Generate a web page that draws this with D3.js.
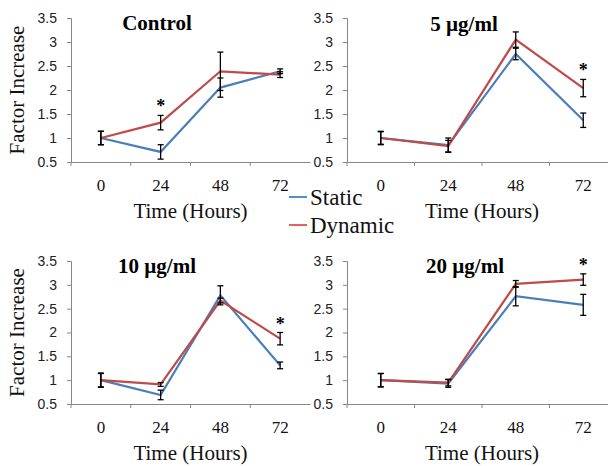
<!DOCTYPE html>
<html>
<head>
<meta charset="utf-8">
<script src="https://cdn.jsdelivr.net/npm/d3@7"></script>
<style>
  body { margin: 0; background: #fff; }
  svg { display: block; }
</style>
</head>
<body>
<div id="chart"></div>
<script>

// Set dimensions
const width = 608;
const height = 466;

// time points (hours) and y axis ticks
const times = ["0", "24", "48", "72"];
const yTicks = [0.5, 1, 1.5, 2, 2.5, 3, 3.5];
const panelTitles = ["Control", "5 µg/ml", "10 µg/ml", "20 µg/ml"];
const seriesNames = ["Static", "Dynamic"];

// values, one array per panel and series
const staticControl = [1.0, 0.71, 2.05, 2.39];
const staticControlErr = [0.14, 0.15, 0.2, 0.05];
const dynamicControl = [1.0, 1.32, 2.39, 2.32];
const dynamicControlErr = [0.14, 0.15, 0.4, 0.06];

const static5 = [1.0, 0.85, 2.75, 1.37];
const static5Err = [0.14, 0.15, 0.12, 0.15];
const dynamic5 = [1.0, 0.83, 3.05, 2.04];
const dynamic5Err = [0.13, 0.12, 0.16, 0.18];

const static10 = [1.0, 0.69, 2.78, 1.31];
const static10Err = [0.15, 0.1, 0.2, 0.07];
const dynamic10 = [1.0, 0.91, 2.67, 1.87];
const dynamic10Err = [0.14, 0.04, 0.05, 0.13];

const static20 = [1.0, 0.93, 2.76, 2.58];
const static20Err = [0.14, 0.08, 0.2, 0.22];
const dynamic20 = [1.0, 0.95, 3.02, 3.11];
const dynamic20Err = [0.14, 0.07, 0.07, 0.12];

// index of the time point marked with a star in each panel
const starIndex = [1, 3, 3, 3];

// panel boxes on the page
const layout = [
  {x0: 71, x1: 310, yTop: 18, yBottom: 162, titleX: 157, titleY: 30},
  {x0: 347, x1: 617, yTop: 18, yBottom: 162, titleX: 464, titleY: 31},
  {x0: 71, x1: 310, yTop: 261, yBottom: 404, titleX: 157, titleY: 273},
  {x0: 347, x1: 617, yTop: 261, yBottom: 404, titleX: 465, titleY: 273}
];

const panels = [
  {s: staticControl, se: staticControlErr, d: dynamicControl, de: dynamicControlErr},
  {s: static5, se: static5Err, d: dynamic5, de: dynamic5Err},
  {s: static10, se: static10Err, d: dynamic10, de: dynamic10Err},
  {s: static20, se: static20Err, d: dynamic20, de: dynamic20Err}
];

const colors = ["#4a7ebb", "#be4b48"];
const legendColors = ["#3a80cf", "#e84c4c"];
const axisColor = "#878787";
const serif = "'Liberation Serif', 'Times New Roman', serif";
const sans = "'Liberation Sans', Arial, sans-serif";

const svg = d3.select("#chart")
  .append("svg")
  .attr("width", width)
  .attr("height", height);

panels.forEach((p, k) => {
  const L = layout[k];
  const g = svg.append("g");

  // scales
  const x = d3.scaleBand()
    .domain(times)
    .range([L.x0, L.x1])
    .padding(0);
  const y = d3.scaleLinear()
    .domain([0.5, 3.5])
    .range([L.yBottom, L.yTop]);
  const cx = t => x(t) + x.bandwidth() / 2;

  // y axis
  const yAxis = g.append("g")
    .attr("transform", `translate(${L.x0},0)`)
    .call(d3.axisLeft(y).tickValues(yTicks).tickSize(4).tickPadding(10)
      .tickFormat(d3.format("")));
  yAxis.select(".domain").attr("stroke", axisColor);
  yAxis.selectAll(".tick line").attr("stroke", axisColor);
  yAxis.selectAll("text")
    .style("font-family", sans)
    .style("font-size", "14px")
    .attr("fill", "#222");

  // x axis: labels in the middle of each band, ticks between bands
  const xAxis = g.append("g")
    .attr("transform", `translate(0,${L.yBottom})`)
    .call(d3.axisBottom(x).tickSize(0).tickSizeOuter(0));
  xAxis.select(".domain").attr("stroke", axisColor);
  xAxis.selectAll("text")
    .attr("y", 29)
    .attr("dy", 0)
    .style("font-family", serif)
    .style("font-size", "17px")
    .attr("fill", "#111");
  g.selectAll(".band-tick")
    .data(times)
    .enter()
    .append("line")
      .attr("x1", t => x(t))
      .attr("x2", t => x(t))
      .attr("y1", L.yBottom)
      .attr("y2", L.yBottom + 4)
      .attr("stroke", axisColor);

  // axis titles
  g.append("text")
    .attr("x", (L.x0 + L.x1) / 2)
    .attr("y", L.yBottom + 56)
    .attr("text-anchor", "middle")
    .style("font-family", serif)
    .style("font-size", "21px")
    .attr("fill", "#111")
    .text("Time (Hours)");

  if (k % 2 === 0) {
    g.append("text")
      .attr("transform", `translate(24,${(L.yTop + L.yBottom) / 2}) rotate(-90)`)
      .attr("text-anchor", "middle")
      .style("font-family", serif)
      .style("font-size", "21px")
      .attr("fill", "#111")
      .text("Factor Increase");
  }

  // panel title
  g.append("text")
    .attr("x", L.titleX)
    .attr("y", L.titleY)
    .attr("text-anchor", "middle")
    .style("font-family", serif)
    .style("font-weight", "bold")
    .style("font-size", "21px")
    .attr("fill", "#000")
    .text(panelTitles[k]);

  // lines
  const line = d3.line()
    .x((v, i) => cx(times[i]))
    .y(v => y(v));
  [p.s, p.d].forEach((vals, j) => {
    g.append("path")
      .datum(vals)
      .attr("d", line)
      .attr("fill", "none")
      .attr("stroke", colors[j])
      .attr("stroke-width", 2.2);
  });

  // error bars
  const errs = [];
  p.s.forEach((v, i) => errs.push({t: times[i], v: v, e: p.se[i]}));
  p.d.forEach((v, i) => errs.push({t: times[i], v: v, e: p.de[i]}));
  const eb = g.selectAll(".err")
    .data(errs)
    .enter()
    .append("g")
    .attr("stroke", "#000")
    .attr("stroke-width", 1.3);
  eb.append("line")
    .attr("x1", d => cx(d.t)).attr("x2", d => cx(d.t))
    .attr("y1", d => y(d.v - d.e)).attr("y2", d => y(d.v + d.e));
  eb.append("line")
    .attr("x1", d => cx(d.t) - 3).attr("x2", d => cx(d.t) + 3)
    .attr("y1", d => y(d.v + d.e)).attr("y2", d => y(d.v + d.e));
  eb.append("line")
    .attr("x1", d => cx(d.t) - 3).attr("x2", d => cx(d.t) + 3)
    .attr("y1", d => y(d.v - d.e)).attr("y2", d => y(d.v - d.e));

  // significance star above the highest error bar
  const si = starIndex[k];
  const top = Math.max(p.s[si] + p.se[si], p.d[si] + p.de[si]);
  g.append("text")
    .attr("x", cx(times[si]))
    .attr("y", y(top) - 3)
    .attr("text-anchor", "middle")
    .style("font-family", serif)
    .style("font-weight", "bold")
    .style("font-size", "18px")
    .attr("fill", "#000")
    .text("*");
});

// legend
const legend = svg.append("g");
seriesNames.forEach((name, j) => {
  const ly = 197 + j * 28;
  legend.append("line")
    .attr("x1", 289).attr("x2", 307)
    .attr("y1", ly).attr("y2", ly)
    .attr("stroke", legendColors[j])
    .attr("stroke-width", 1.8);
  legend.append("text")
    .attr("x", 310)
    .attr("y", ly + 8)
    .style("font-family", serif)
    .style("font-size", "23px")
    .attr("fill", "#111")
    .text(name);
});

</script>
</body>
</html>
